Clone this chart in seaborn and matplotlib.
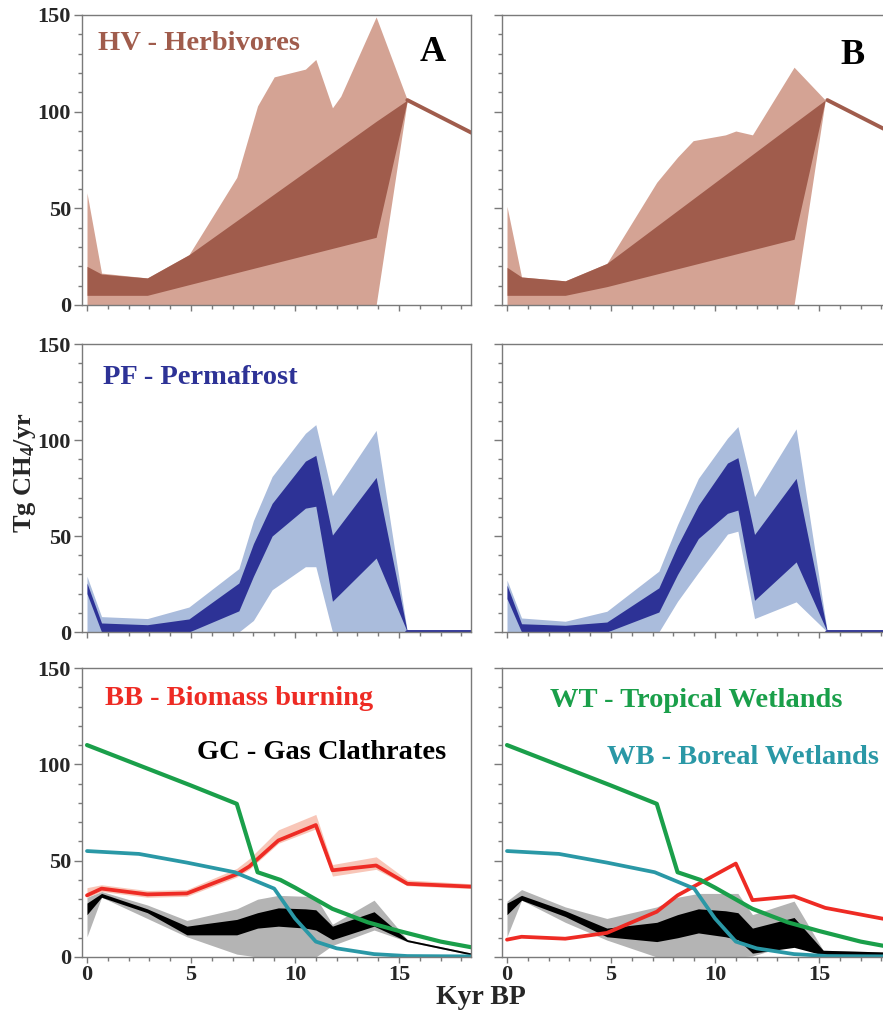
import matplotlib
matplotlib.use('Agg')
import matplotlib.pyplot as plt
from matplotlib.ticker import MultipleLocator
import seaborn as sns

# ---------------- data (Tg CH4/yr against kyr BP) ----------------
# HV - herbivores, scenario A
hv_a_x = [0, 0.7, 2.9, 4.9, 7.2, 8.2, 9.0, 10.5, 11.0, 11.8, 12.2, 13.9, 15.4]
hv_a_max = [58, 16.5, 14, 26, 66, 103, 118, 122, 127, 102, 108, 149, 106]
hv_a_min = [0, 0, 0, 0, 0, 0, 0, 0, 0, 0, 0, 0, 106]
hv_a_qx = [0, 0.7, 2.9, 4.9, 13.9, 15.4]
hv_a_qhi = [20, 16, 14, 26, 95, 106]
hv_a_qlo = [5, 5, 5, 10.5, 35, 106]
# HV - herbivores, scenario B
hv_b_x = [0, 0.7, 2.8, 4.8, 7.2, 8.2, 8.95, 10.5, 11.0, 11.8, 13.8, 15.3]
hv_b_max = [51, 14.5, 12.5, 21.5, 63.5, 76.5, 85, 88, 90, 88, 123, 106]
hv_b_min = [0, 0, 0, 0, 0, 0, 0, 0, 0, 0, 0, 106]
hv_b_qx = [0, 0.7, 2.8, 4.8, 13.8, 15.3]
hv_b_qhi = [19.5, 14.5, 12.5, 21.5, 94, 106]
hv_b_qlo = [5, 5, 5, 9.5, 34, 106]
# HV common tail
hv_tail_x = [15.4, 18.5]
hv_tail = [106, 89]

# PF - permafrost, scenario A
pf_a_x = [0, 0.7, 2.9, 4.9, 7.3, 8.0, 8.9, 10.5, 11.0, 11.8, 13.9, 15.4]
pf_a_max = [29, 8, 7, 13, 33, 58, 81, 103.5, 108, 71, 105, 0]
pf_a_qhi = [25.5, 4.7, 3.8, 6.8, 25.5, 46, 67, 89, 92, 50.5, 80.5, 0]
pf_a_qlo = [20, 0, 0, 0, 11, 29, 50, 64.5, 65.5, 16, 38.5, 0]
pf_a_min = [0, 0, 0, 0, 0, 6, 22, 34, 34, 0, 0, 0]
# PF - permafrost, scenario B
pf_b_x = [0, 0.7, 2.8, 4.8, 7.3, 8.2, 9.2, 10.6, 11.1, 11.9, 13.9, 15.4]
pf_b_max = [27, 7.3, 5.6, 10.8, 31.7, 56, 80, 101, 107, 70.5, 105.8, 0]
pf_b_qhi = [24.4, 4.3, 3.5, 5.2, 23, 45, 66, 88, 90.8, 50.8, 80, 0]
pf_b_qlo = [17.4, 0, 0, 0, 10.4, 30, 48.7, 61.8, 63.5, 16.5, 36.5, 0]
pf_b_min = [0, 0, 0, 0, 0, 16, 31, 51, 52.5, 7, 15.7, 0]
pf_tail_x = [15.4, 18.5]
pf_tail = [0, 0]

# WT - tropical wetlands and WB - boreal wetlands (same in A and B)
wt_x = [0, 2.5, 5, 7.2, 8.2, 9.3, 10, 11.8, 13.5, 15, 17, 18.5]
wt = [110, 99.5, 89, 79.5, 44, 40, 36, 25, 18, 13.5, 8, 5]
wb_x = [0, 2.5, 4.8, 7.1, 9.0, 10.0, 11.0, 12.0, 13.8, 15.4, 18.5]
wb = [55, 53.5, 49, 44, 35.5, 20, 8, 4.5, 1.5, 0.5, 0.3]

# BB - biomass burning
bb_a_x = [0, 0.7, 2.9, 4.8, 7.2, 7.8, 9.2, 11.0, 11.8, 13.9, 15.4, 18.5]
bb_a = [32, 35.5, 32.5, 33, 43, 47, 60.5, 68.5, 45, 47.5, 38, 36.5]
bb_a_hi = [36, 37.5, 34.5, 35, 46, 51, 66, 74, 48, 52, 40, 38]
bb_a_lo = [31, 34, 31, 31.5, 41.5, 45.5, 59, 66.5, 42, 45.5, 37, 35.5]
bb_b_x = [0, 0.7, 2.8, 4.8, 7.2, 8.2, 11.0, 11.8, 13.8, 15.3, 18.5]
bb_b = [9, 10.5, 9.5, 12.5, 23.5, 32, 48.5, 29.5, 31.5, 25.5, 19]

# GC - gas clathrates
gc_a_x = [0, 0.7, 2.9, 4.8, 7.2, 8.2, 9.2, 10.5, 11.0, 11.8, 13.8, 15.4, 18.5]
gc_a_qhi = [28, 33, 25, 16, 19.5, 23, 25.5, 25, 24.5, 16, 23.5, 9, 2]
gc_a_qlo = [22, 31, 23, 11.5, 11.5, 15, 16, 15, 14, 9, 16, 8, 1]
gc_a_max = [31, 34, 27, 19, 25, 30, 32, 31.5, 31, 17, 29.5, 9, 2]
gc_a_min = [10.5, 31, 20, 10.5, 1.5, 0, 0, 0, 0, 6, 14, 8, 1]
gc_b_x = [0, 0.7, 2.8, 4.8, 7.2, 8.2, 9.2, 10.5, 11.1, 11.8, 13.8, 15.2, 18.5]
gc_b_qhi = [28, 32, 24, 15, 18, 22, 25, 24, 23, 15, 20.5, 3.5, 2.5]
gc_b_qlo = [22, 29.5, 21, 10.5, 8, 10, 12.5, 10.5, 9, 2, 5, 1, 0.5]
gc_b_max = [29, 35, 26, 20, 26, 31, 33, 33, 33, 22, 29, 3.5, 2.5]
gc_b_min = [10.5, 29.5, 18, 8.8, 0, 0, 0, 0, 0, 0.5, 7, 1, 0.5]

# ---------------- style ----------------
sns.set_theme(style='ticks')
plt.rcParams['font.family'] = ['Liberation Serif', 'DejaVu Serif']
plt.rcParams['font.weight'] = 'bold'
plt.rcParams['mathtext.default'] = 'regular'

HV_LIGHT, HV_DARK = '#d4a394', '#a05c4c'
PF_LIGHT, PF_DARK = '#aabcdc', '#2d3296'
RED, PINK = '#ee2b24', '#f8c6b8'
GREEN, TEAL = '#1a9f4a', '#2a98a6'
GREY = '#b4b4b4'
SPINE = '#7a7a7a'

fig = plt.figure(figsize=(8.83, 10.16), dpi=100)
W, H = 8.83 * 100, 10.16 * 100
cols = [82, 502]
rows = [(15, 305), (344, 632), (668, 957)]
axes = [[None, None] for _ in rows]
for r, (top, bot) in enumerate(rows):
    for c, left in enumerate(cols):
        ax = fig.add_axes([left / W, 1 - bot / H, 389 / W, (bot - top) / H])
        axes[r][c] = ax


def style(ax, xlabels, ylabels):
    ax.set_xlim(-0.24, 18.46)
    ax.set_ylim(0, 150)
    ax.xaxis.set_major_locator(MultipleLocator(5))
    ax.xaxis.set_minor_locator(MultipleLocator(1))
    ax.yaxis.set_major_locator(MultipleLocator(50))
    ax.yaxis.set_minor_locator(MultipleLocator(10))
    ax.tick_params(which='major', length=6, width=1, color=SPINE,
                   labelsize=16, pad=2)
    ax.tick_params(which='minor', length=3, width=1, color=SPINE)
    ax.tick_params(axis='x', which='major', length=4)
    ax.tick_params(labelbottom=xlabels, labelleft=ylabels)
    for s in ax.spines.values():
        s.set_color(SPINE)
        s.set_linewidth(1.0)
    ax.set_xlabel('')
    ax.set_ylabel('')
    ax.set_facecolor('white')
    for lab in ax.get_xticklabels() + ax.get_yticklabels():
        lab.set_fontweight('bold')
    if ylabels:
        labs = ax.get_yticklabels()
        labs[0].set_verticalalignment('top')


def band(ax, x, lo, hi, color):
    ax.fill_between(x, lo, hi, color=color, linewidth=0)


# row 1: herbivores
for ax, x, mn, mx, qx, qlo, qhi in [
        (axes[0][0], hv_a_x, hv_a_min, hv_a_max, hv_a_qx, hv_a_qlo, hv_a_qhi),
        (axes[0][1], hv_b_x, hv_b_min, hv_b_max, hv_b_qx, hv_b_qlo, hv_b_qhi)]:
    band(ax, x, mn, mx, HV_LIGHT)
    band(ax, qx, qlo, qhi, HV_DARK)
    sns.lineplot(x=hv_tail_x, y=hv_tail, ax=ax, color=HV_DARK, linewidth=2.8)

# row 2: permafrost
for ax, x, mn, mx, qlo, qhi in [
        (axes[1][0], pf_a_x, pf_a_min, pf_a_max, pf_a_qlo, pf_a_qhi),
        (axes[1][1], pf_b_x, pf_b_min, pf_b_max, pf_b_qlo, pf_b_qhi)]:
    band(ax, x, mn, mx, PF_LIGHT)
    band(ax, x, qlo, qhi, PF_DARK)
    sns.lineplot(x=pf_tail_x, y=pf_tail, ax=ax, color=PF_DARK, linewidth=3.5)

# row 3: wetlands, biomass burning, clathrates
axA, axB = axes[2]
band(axA, gc_a_x, gc_a_min, gc_a_max, GREY)
band(axA, gc_a_x, gc_a_qlo, gc_a_qhi, 'black')
band(axA, bb_a_x, bb_a_lo, bb_a_hi, PINK)
band(axB, gc_b_x, gc_b_min, gc_b_max, GREY)
band(axB, gc_b_x, gc_b_qlo, gc_b_qhi, 'black')
for ax, bx, by in [(axA, bb_a_x, bb_a), (axB, bb_b_x, bb_b)]:
    sns.lineplot(x=bx, y=by, ax=ax, color=RED, linewidth=2.7)
    sns.lineplot(x=wb_x, y=wb, ax=ax, color=TEAL, linewidth=2.7)
    sns.lineplot(x=wt_x, y=wt, ax=ax, color=GREEN, linewidth=3)

for r in range(3):
    for c in range(2):
        style(axes[r][c], xlabels=(r == 2), ylabels=(c == 0))

# panel annotations
tk = dict(fontsize=20.5, fontweight='bold', va='center', ha='left')
axes[0][0].text(0.041, 0.903, 'HV - Herbivores', color=HV_DARK,
                transform=axes[0][0].transAxes, **tk)
axes[0][0].text(0.869, 0.869, 'A', color='black', fontsize=26,
                fontweight='bold', va='center', transform=axes[0][0].transAxes)
axes[0][1].text(0.869, 0.862, 'B', color='black', fontsize=26,
                fontweight='bold', va='center', transform=axes[0][1].transAxes)
axes[1][0].text(0.054, 0.882, 'PF - Permafrost', color=PF_DARK,
                transform=axes[1][0].transAxes, **tk)
axA.text(0.059, 0.896, 'BB - Biomass burning', color=RED,
         transform=axA.transAxes, **tk)
axA.text(0.296, 0.706, 'GC - Gas Clathrates', color='black',
         transform=axA.transAxes, **tk)
axB.text(0.123, 0.889, 'WT - Tropical Wetlands', color=GREEN,
         transform=axB.transAxes, **tk)
axB.text(0.27, 0.689, 'WB - Boreal Wetlands', color=TEAL,
         transform=axB.transAxes, **tk)

fig.text(25 / W, 1 - 473 / H, 'Tg CH$_4$/yr', rotation=90, fontsize=19,
         fontweight='bold', ha='center', va='center')
fig.text(481 / W, 1 - 998 / H, 'Kyr BP', fontsize=20, fontweight='bold',
         ha='center', va='center')

fig.savefig('out.png', dpi=100, facecolor='white')
